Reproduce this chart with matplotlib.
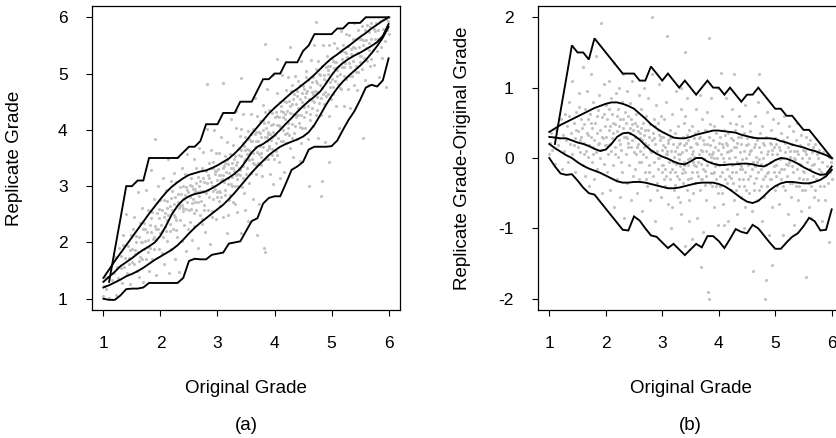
# 复制成绩散点图：(a) 复评 vs 原评，(b) 差值 vs 原评
import numpy as np
import matplotlib
matplotlib.use('Agg')
import matplotlib.pyplot as plt

plt.rcParams['font.family'] = ['Liberation Sans', 'DejaVu Sans']
plt.rcParams['axes.unicode_minus'] = False

# 原评分格点
grade_grid = [1.0, 1.1, 1.2, 1.3, 1.4, 1.5, 1.6, 1.7, 1.8, 1.9,
              2.0, 2.1, 2.2, 2.3, 2.4, 2.5, 2.6, 2.7, 2.8, 2.9,
              3.0, 3.1, 3.2, 3.3, 3.4, 3.5, 3.6, 3.7, 3.8, 3.9,
              4.0, 4.1, 4.2, 4.3, 4.4, 4.5, 4.6, 4.7, 4.8, 4.9,
              5.0, 5.1, 5.2, 5.3, 5.4, 5.5, 5.6, 5.7, 5.8, 5.9, 6.0]

# 差值（复评-原评）的包络线与平滑分位线
diff_max = [None, 0.20, 0.67, 1.13, 1.60, 1.50, 1.50, 1.40, 1.70, 1.60,
            1.50, 1.40, 1.30, 1.20, 1.20, 1.20, 1.10, 1.10, 1.30, 1.20,
            1.10, 1.20, 1.10, 1.00, 1.10, 1.00, 0.90, 1.00, 1.10, 1.00,
            1.00, 0.90, 1.00, 0.90, 0.80, 0.90, 0.90, 1.00, 0.90, 0.80,
            0.70, 0.70, 0.60, 0.60, 0.50, 0.40, 0.40, 0.30, 0.20, 0.10, 0.00]
diff_min = [0.00, -0.12, -0.22, -0.24, -0.23, -0.32, -0.42, -0.50, -0.52, -0.62,
            -0.72, -0.82, -0.92, -1.02, -1.03, -0.83, -0.89, -1.00, -1.10, -1.12,
            -1.20, -1.28, -1.22, -1.30, -1.38, -1.30, -1.22, -1.27, -1.11, -1.11,
            -1.18, -1.28, -1.15, -1.01, -1.05, -1.07, -0.95, -1.00, -1.10, -1.20,
            -1.29, -1.29, -1.20, -1.12, -1.07, -0.97, -0.85, -0.90, -1.03, -1.02, -0.73]
diff_q_hi = [0.37, 0.42, 0.47, 0.51, 0.55, 0.59, 0.63, 0.67, 0.71, 0.74,
             0.77, 0.79, 0.79, 0.77, 0.74, 0.70, 0.63, 0.56, 0.48, 0.42,
             0.37, 0.33, 0.29, 0.28, 0.28, 0.30, 0.33, 0.35, 0.37, 0.39,
             0.39, 0.38, 0.37, 0.36, 0.33, 0.31, 0.29, 0.28, 0.28, 0.28,
             0.27, 0.24, 0.22, 0.19, 0.17, 0.15, 0.12, 0.10, 0.07, 0.04, 0.00]
diff_q_mid = [0.30, 0.29, 0.28, 0.28, 0.25, 0.22, 0.20, 0.17, 0.13, 0.10,
              0.12, 0.20, 0.30, 0.35, 0.36, 0.32, 0.26, 0.18, 0.11, 0.06,
              0.02, -0.01, -0.05, -0.08, -0.09, -0.05, 0.00, 0.00, -0.05, -0.08,
              -0.10, -0.10, -0.09, -0.09, -0.08, -0.08, -0.09, -0.11, -0.12, -0.08,
              -0.03, 0.00, -0.01, -0.04, -0.08, -0.13, -0.17, -0.21, -0.24, -0.23, -0.12]
diff_q_lo = [0.20, 0.14, 0.09, 0.04, 0.00, -0.06, -0.11, -0.15, -0.18, -0.21,
             -0.25, -0.29, -0.33, -0.35, -0.35, -0.34, -0.34, -0.35, -0.37, -0.39,
             -0.41, -0.43, -0.43, -0.42, -0.40, -0.38, -0.36, -0.35, -0.35, -0.35,
             -0.37, -0.40, -0.45, -0.51, -0.57, -0.62, -0.64, -0.61, -0.54, -0.46,
             -0.40, -0.36, -0.34, -0.34, -0.35, -0.36, -0.36, -0.34, -0.31, -0.26, -0.17]

# 散点：(原评, 复评-原评)
grade_pairs = [
    (1.00, 0.05), (1.01, 0.22), (1.03, 0.35), (1.05, 0.12), (1.08, 0.30), (1.10, -0.08), (1.12, 0.40),
    (1.15, 0.18), (1.18, 0.28), (1.20, 0.55), (1.22, -0.15), (1.24, 0.33), (1.26, 0.10), (1.28, 0.62),
    (1.30, 0.25), (1.31, 0.45), (1.33, -0.05), (1.34, 0.80), (1.36, 0.20), (1.38, 0.35), (1.40, 1.10),
    (1.41, 0.05), (1.43, 0.50), (1.45, 0.28), (1.46, -0.20), (1.48, 0.65), (1.50, 0.15), (1.51, 0.38),
    (1.53, 0.92), (1.54, 0.08), (1.56, 0.30), (1.57, 0.55), (1.59, -0.10), (1.60, 1.30), (1.35, 0.60),
    (1.44, 0.18), (1.52, 0.72), (1.58, 0.42),
    (1.61, 0.22), (1.62, 0.48), (1.63, -0.25), (1.64, 0.70), (1.65, 0.10), (1.66, 0.35), (1.67, 0.95),
    (1.68, 0.02), (1.69, 0.55), (1.70, -0.40), (1.71, 0.18), (1.72, 0.62), (1.73, 0.30), (1.74, 1.20),
    (1.75, -0.05), (1.76, 0.42), (1.77, 0.15), (1.78, 0.80), (1.79, 0.25), (1.80, -0.30), (1.81, 0.50),
    (1.82, 0.08), (1.83, 1.45), (1.84, 0.35), (1.85, -0.15), (1.86, 0.68), (1.87, 0.20), (1.88, 0.90),
    (1.89, 0.00), (1.90, 0.40), (1.91, 1.92), (1.92, 0.12), (1.93, -0.50), (1.94, 0.58), (1.95, 0.28),
    (1.96, 1.05), (1.97, -0.08), (1.98, 0.45), (1.99, 0.18), (2.00, 0.75),
    (2.01, 0.30), (2.02, -0.20), (2.03, 0.55), (2.04, 0.05), (2.05, 1.10), (2.06, 0.40), (2.07, -0.45),
    (2.08, 0.20), (2.09, 0.85), (2.10, 0.10), (2.11, 0.62), (2.12, -0.10), (2.13, 0.35), (2.14, 1.35),
    (2.15, -0.70), (2.16, 0.48), (2.17, 0.15), (2.18, 0.92), (2.19, -0.30), (2.20, 0.38), (2.21, 0.70),
    (2.22, 0.02), (2.23, 0.25), (2.24, 1.00), (2.25, -0.55), (2.26, 0.55), (2.27, 0.12), (2.28, 0.80),
    (2.29, -0.20), (2.30, 0.42), (2.31, 1.20), (2.32, 0.30), (2.33, -0.85), (2.34, 0.65), (2.35, 0.05),
    (2.36, 0.50), (2.37, -0.35), (2.38, 0.95), (2.39, 0.22), (2.40, 0.60), (2.41, -0.10), (2.42, 0.35),
    (2.43, 0.78), (2.44, -0.60), (2.45, 0.15), (2.46, 0.48), (2.47, 1.10), (2.48, -0.25), (2.49, 0.40),
    (2.50, 0.08), (2.12, 0.50), (2.27, -0.05), (2.38, 0.28), (2.06, 0.70), (2.44, 0.55),
    (2.51, 0.30), (2.52, -0.15), (2.53, 0.62), (2.54, 0.05), (2.55, -0.50), (2.56, 0.45), (2.57, 0.20),
    (2.58, 0.90), (2.59, -0.30), (2.60, 0.35), (2.61, 0.10), (2.62, 0.70), (2.63, -0.05), (2.64, 0.25),
    (2.65, -0.75), (2.66, 0.50), (2.67, 0.15), (2.68, 1.00), (2.69, -0.20), (2.70, 0.40), (2.71, 0.02),
    (2.72, 0.60), (2.73, -0.40), (2.74, 0.18), (2.75, 0.85), (2.76, -0.10), (2.77, 0.30), (2.78, -0.60),
    (2.79, 0.48), (2.80, 0.08), (2.81, 1.20), (2.82, 2.00), (2.83, -0.25), (2.84, 0.35), (2.85, -0.05),
    (2.86, 0.55), (2.87, -0.90), (2.88, 0.20), (2.89, 0.75), (2.90, -0.35), (2.91, 0.10), (2.92, 0.40),
    (2.93, -0.15), (2.94, 1.05), (2.95, 0.00), (2.96, 0.25), (2.97, -0.55), (2.98, 0.60), (2.99, 0.12),
    (3.00, -0.20), (2.55, 0.15), (2.63, 0.42), (2.72, -0.30), (2.86, 0.28), (2.93, 0.50), (2.58, -0.05),
    (2.68, 0.32), (2.78, 0.12), (2.91, -0.45), (2.97, 0.30),
    (3.01, 0.30), (3.02, -0.10), (3.03, 0.55), (3.04, -0.40), (3.05, 0.15), (3.06, -0.25), (3.07, 0.80),
    (3.08, 0.05), (3.09, 1.74), (3.10, -0.65), (3.11, 0.25), (3.12, -0.05), (3.13, 0.40), (3.14, -0.30),
    (3.15, 0.10), (3.16, -1.00), (3.17, 0.62), (3.18, -0.15), (3.19, 0.20), (3.20, -0.45), (3.21, 0.02),
    (3.22, 0.35), (3.23, -0.20), (3.24, 0.95), (3.25, -0.08), (3.26, 0.15), (3.27, -0.55), (3.28, 0.45),
    (3.29, -0.02), (3.30, -0.30), (3.31, 0.22), (3.32, -0.12), (3.33, 0.70), (3.34, -0.80), (3.35, 0.08),
    (3.36, -0.35), (3.37, 0.30), (3.38, -0.05), (3.39, 0.50), (3.40, -0.20), (3.41, -1.25), (3.42, 0.12),
    (3.43, -0.45), (3.44, 0.85), (3.45, -0.10), (3.46, 0.25), (3.47, -0.60), (3.48, 0.40), (3.49, 0.00),
    (3.50, -0.28), (3.05, -0.15), (3.14, 0.28), (3.22, -0.38), (3.31, -0.62), (3.38, 0.18), (3.46, -0.02),
    (3.09, 0.10), (3.27, 0.05), (3.36, -0.15), (3.44, 0.32), (3.18, -0.70), (3.41, 0.60), (3.03, -0.30),
    (3.33, 1.00), (3.48, -0.90), (3.41, 1.51),
    (3.51, 0.15), (3.52, -0.20), (3.53, 0.45), (3.54, -0.05), (3.55, -0.50), (3.56, 0.28), (3.57, 0.02),
    (3.58, -0.35), (3.59, 0.70), (3.60, -0.12), (3.61, 0.20), (3.62, -0.85), (3.63, 0.38), (3.64, -0.25),
    (3.65, 0.05), (3.66, 0.90), (3.67, -0.45), (3.68, 0.12), (3.69, -0.08), (3.70, 0.55), (3.71, -0.30),
    (3.72, 0.25), (3.73, -1.05), (3.74, -0.02), (3.75, 0.40), (3.76, -0.18), (3.77, 0.10), (3.78, -0.60),
    (3.79, 0.65), (3.80, -0.10), (3.81, -1.90), (3.82, 0.30), (3.83, -2.00), (3.84, -0.35), (3.85, 0.18),
    (3.86, -0.05), (3.87, 0.85), (3.88, -0.40), (3.89, 0.08), (3.90, -0.22), (3.91, 0.45), (3.92, -0.70),
    (3.93, 0.15), (3.94, -0.12), (3.95, 0.35), (3.96, -0.30), (3.97, 0.00), (3.98, 1.00), (3.99, -0.50),
    (4.00, 0.22), (3.55, 0.10), (3.63, -0.05), (3.72, -0.15), (3.79, 0.20), (3.88, 0.05), (3.95, -0.08),
    (3.58, 0.35), (3.67, 0.30), (3.76, -0.38), (3.84, 0.48), (3.91, -0.20), (3.98, -0.95), (3.53, -1.15),
    (3.69, -1.55), (3.86, 0.02), (3.83, 1.70),
    (4.01, -0.10), (4.02, 0.30), (4.03, -0.40), (4.04, 0.05), (4.05, 0.60), (4.06, -0.20), (4.07, 0.15),
    (4.08, -0.65), (4.09, 0.40), (4.10, -0.05), (4.11, -0.30), (4.12, 0.22), (4.13, 0.85), (4.14, -0.15),
    (4.15, 0.08), (4.16, -0.90), (4.17, 0.35), (4.18, -0.25), (4.19, 0.00), (4.20, 0.50), (4.21, -0.45),
    (4.22, 0.12), (4.23, -0.10), (4.24, 0.70), (4.25, -0.35), (4.26, 0.25), (4.27, -0.60), (4.28, 0.02),
    (4.29, 0.40), (4.30, -0.20), (4.31, 0.15), (4.32, -0.80), (4.33, -0.05), (4.34, 0.30), (4.35, -0.40),
    (4.36, 0.60), (4.37, -0.15), (4.38, 0.08), (4.39, -0.55), (4.40, 0.20), (4.41, -0.02), (4.42, 0.45),
    (4.43, -0.30), (4.44, -1.00), (4.45, 0.10), (4.46, -0.20), (4.47, 0.75), (4.48, -0.45), (4.49, 0.00),
    (4.50, 0.28), (4.05, -0.50), (4.14, 0.18), (4.22, -0.28), (4.31, 0.48), (4.39, -0.12), (4.47, -0.70),
    (4.10, -0.95), (4.27, 1.20), (4.36, -0.08), (4.44, 0.35), (4.04, 1.21),
    (4.51, -0.10), (4.52, 0.20), (4.53, -0.50), (4.54, 0.05), (4.55, 0.50), (4.56, -0.25), (4.57, 0.12),
    (4.58, -0.75), (4.59, 0.30), (4.60, -0.05), (4.61, -1.60), (4.62, 0.15), (4.63, -0.35), (4.64, 0.60),
    (4.65, -0.12), (4.66, 0.02), (4.67, -0.60), (4.68, 0.25), (4.69, -0.20), (4.70, 0.80), (4.71, -0.02),
    (4.72, -0.45), (4.73, 0.35), (4.74, -0.15), (4.75, 0.08), (4.76, -0.90), (4.77, 0.45), (4.78, -0.30),
    (4.79, 0.00), (4.80, 0.18), (4.81, -0.55), (4.82, -2.00), (4.83, 0.30), (4.84, -0.10), (4.85, 0.65),
    (4.86, -0.40), (4.87, 0.10), (4.88, -0.20), (4.89, -1.10), (4.90, 0.22), (4.91, -0.05), (4.92, 0.40),
    (4.93, -0.30), (4.94, 0.05), (4.95, -0.70), (4.96, 0.55), (4.97, -0.12), (4.98, 0.15), (4.99, -0.45),
    (5.00, 0.28), (4.56, 0.38), (4.66, -0.28), (4.75, -0.08), (4.85, -0.22), (4.94, 0.12), (4.72, 1.20),
    (4.95, -1.52), (4.84, -1.74),
    (5.01, -0.10), (5.02, 0.20), (5.03, -0.40), (5.04, 0.05), (5.05, 0.50), (5.06, -0.20), (5.07, -0.65),
    (5.08, 0.12), (5.09, -0.02), (5.10, 0.35), (5.11, -0.30), (5.12, 0.00), (5.13, -1.10), (5.14, 0.25),
    (5.15, -0.15), (5.16, 0.60), (5.17, -0.45), (5.18, 0.08), (5.19, -0.08), (5.20, 0.30), (5.21, -0.25),
    (5.22, -0.80), (5.23, 0.15), (5.24, -0.05), (5.25, 0.45), (5.26, -0.35), (5.27, 0.02), (5.28, -0.55),
    (5.29, 0.20), (5.30, -0.12), (5.31, 0.38), (5.32, -0.20), (5.33, -0.95), (5.34, 0.10), (5.35, -0.02),
    (5.36, -0.40), (5.37, 0.25), (5.38, -0.15), (5.39, 0.50), (5.40, -0.60), (5.41, 0.05), (5.42, -0.28),
    (5.43, 0.18), (5.44, -0.08), (5.45, -0.75), (5.46, 0.32), (5.47, -0.45), (5.48, 0.00), (5.49, -0.18),
    (5.50, 0.12),
    (5.51, -0.20), (5.52, 0.10), (5.53, -0.45), (5.54, 0.30), (5.55, -1.69), (5.56, -0.05), (5.57, -0.30),
    (5.58, 0.20), (5.59, -0.70), (5.60, 0.00), (5.61, -0.15), (5.62, 0.25), (5.63, -0.40), (5.64, -0.85),
    (5.65, 0.08), (5.66, -0.25), (5.67, 0.15), (5.68, -0.55), (5.69, -0.08), (5.70, 0.20), (5.72, -0.30),
    (5.74, 0.05), (5.75, -0.60), (5.77, -0.15), (5.78, 0.12), (5.80, -0.40), (5.82, -0.05), (5.83, -0.90),
    (5.85, 0.08), (5.86, -0.25), (5.88, -0.60), (5.90, 0.05), (5.91, -0.12), (5.93, -0.35), (5.95, 0.02),
    (5.96, -1.20), (5.97, -0.20), (5.99, -0.05), (6.00, -0.30), (6.00, 0.00),
    (1.47, 0.40), (1.55, 0.25), (1.62, 0.05), (1.68, 0.32), (1.73, 0.50), (1.78, 0.05), (1.84, 0.60),
    (1.88, 0.22), (1.93, 0.30), (1.97, 0.62), (2.03, 0.18), (2.08, 0.45), (2.11, 0.28), (2.16, 0.05),
    (2.19, 0.60), (2.23, 0.45), (2.26, 0.20), (2.31, 0.55), (2.35, 0.30), (2.40, 0.15), (2.43, 0.42),
    (2.47, 0.25), (2.52, 0.50), (2.57, 0.38), (2.61, 0.28), (2.66, 0.05), (2.70, 0.22), (2.74, 0.40),
    (2.77, -0.20), (2.81, 0.25), (2.84, 0.10), (2.88, 0.45), (2.92, 0.00), (2.95, 0.32), (2.99, -0.10),
    (3.02, 0.18), (3.06, 0.05), (3.10, 0.22), (3.13, -0.20), (3.16, 0.30), (3.19, -0.05), (3.23, 0.10),
    (3.26, -0.25), (3.29, 0.20), (3.32, 0.05), (3.35, -0.22), (3.39, -0.10), (3.42, 0.22), (3.45, -0.30),
    (3.49, 0.15), (3.52, 0.05), (3.56, -0.10), (3.59, 0.22), (3.62, -0.20), (3.65, 0.28), (3.68, -0.30),
    (3.71, 0.10), (3.74, 0.20), (3.77, -0.25), (3.80, 0.38), (3.83, 0.05), (3.86, -0.22), (3.89, 0.25),
    (3.92, 0.00), (3.95, -0.40), (3.98, 0.12), (4.02, -0.25), (4.05, 0.20), (4.08, 0.00), (4.11, 0.32),
    (4.15, -0.35), (4.18, 0.10), (4.21, 0.28), (4.24, -0.20), (4.27, 0.15), (4.30, -0.45), (4.33, 0.22),
    (4.36, -0.30), (4.39, 0.30), (4.42, -0.15), (4.45, -0.40), (4.48, 0.18), (4.52, -0.30), (4.55, 0.10),
    (4.58, -0.15), (4.62, -0.45), (4.65, 0.20), (4.68, -0.05), (4.72, 0.15), (4.75, -0.40), (4.78, 0.22),
    (4.82, -0.25), (4.86, 0.05), (4.90, -0.30), (4.93, 0.20), (4.97, -0.20), (5.02, -0.25), (5.06, 0.15),
    (5.10, -0.15), (5.14, -0.40), (5.18, 0.22), (5.22, -0.10), (5.26, 0.10), (5.30, -0.35), (5.34, 0.00),
    (5.38, 0.10), (5.42, -0.40), (5.46, -0.10), (5.50, -0.30), (5.55, 0.05), (5.60, -0.35), (5.65, -0.10),
    (5.70, -0.45), (5.76, 0.00), (5.81, -0.20), (5.87, -0.40), (5.92, -0.20), (5.98, -0.15),
]

orig = np.array([p[0] for p in grade_pairs])
diff = np.array([p[1] for p in grade_pairs])
gx = np.array(grade_grid)

fig = plt.figure(figsize=(8.36, 4.38), dpi=100)
W, H = 836, 438
ax1 = fig.add_axes([92 / W, 128 / H, 308 / W, 304 / H])
ax2 = fig.add_axes([538 / W, 128 / H, 305 / W, 304 / H])

dot_color = '#c2c2c2'
line_kw = dict(color='black', lw=1.35, solid_joinstyle='miter')

# (a) 复评分
ax1.scatter(orig, orig + diff, s=5, color=dot_color, linewidths=0, zorder=1)
ax1.plot(gx[1:], gx[1:] + np.array(diff_max[1:], dtype=float), **line_kw)
ax1.plot(gx, gx + np.array(diff_min), **line_kw)
for q in (diff_q_hi, diff_q_mid, diff_q_lo):
    ax1.plot(gx, gx + np.array(q), **line_kw)
ax1.set_xlim(0.8, 6.2)
ax1.set_ylim(0.8, 6.2)
ax1.set_yticks([1, 2, 3, 4, 5, 6])
ax1.set_ylabel('Replicate Grade', fontsize=13.5)
ax1.yaxis.set_label_coords(-0.253, 0.5)

# (b) 差值
ax2.scatter(orig, diff, s=5, color=dot_color, linewidths=0, zorder=1)
ax2.plot(gx[1:], np.array(diff_max[1:], dtype=float), **line_kw)
ax2.plot(gx, diff_min, **line_kw)
for q in (diff_q_hi, diff_q_mid, diff_q_lo):
    ax2.plot(gx, q, **line_kw)
ax2.set_xlim(0.8, 6.2)
ax2.set_ylim(-2.16, 2.16)
ax2.set_yticks([-2, -1, 0, 1, 2])
ax2.set_ylabel('Replicate Grade-Original Grade', fontsize=13.5)
ax2.yaxis.set_label_coords(-0.249, 0.5)

for ax in (ax1, ax2):
    ax.set_xticks([1, 2, 3, 4, 5, 6])
    ax.set_xlabel('Original Grade', fontsize=13.5)
    ax.xaxis.set_label_coords(0.5, -0.257)
    ax.xaxis.label.set_va('center')
    ax.yaxis.label.set_va('center')
    ax.tick_params(axis='x', direction='out', length=4.5, width=0.8, pad=14, labelsize=12.5)
    ax.tick_params(axis='y', direction='out', length=4.5, width=0.8, pad=13, labelsize=12.5)
    for sp in ax.spines.values():
        sp.set_linewidth(0.9)

fig.text(246 / W, 1 - 426 / H, '(a)', fontsize=13.5, ha='center', va='center')
fig.text(690 / W, 1 - 426 / H, '(b)', fontsize=13.5, ha='center', va='center')

fig.savefig('out.png', dpi=100)
